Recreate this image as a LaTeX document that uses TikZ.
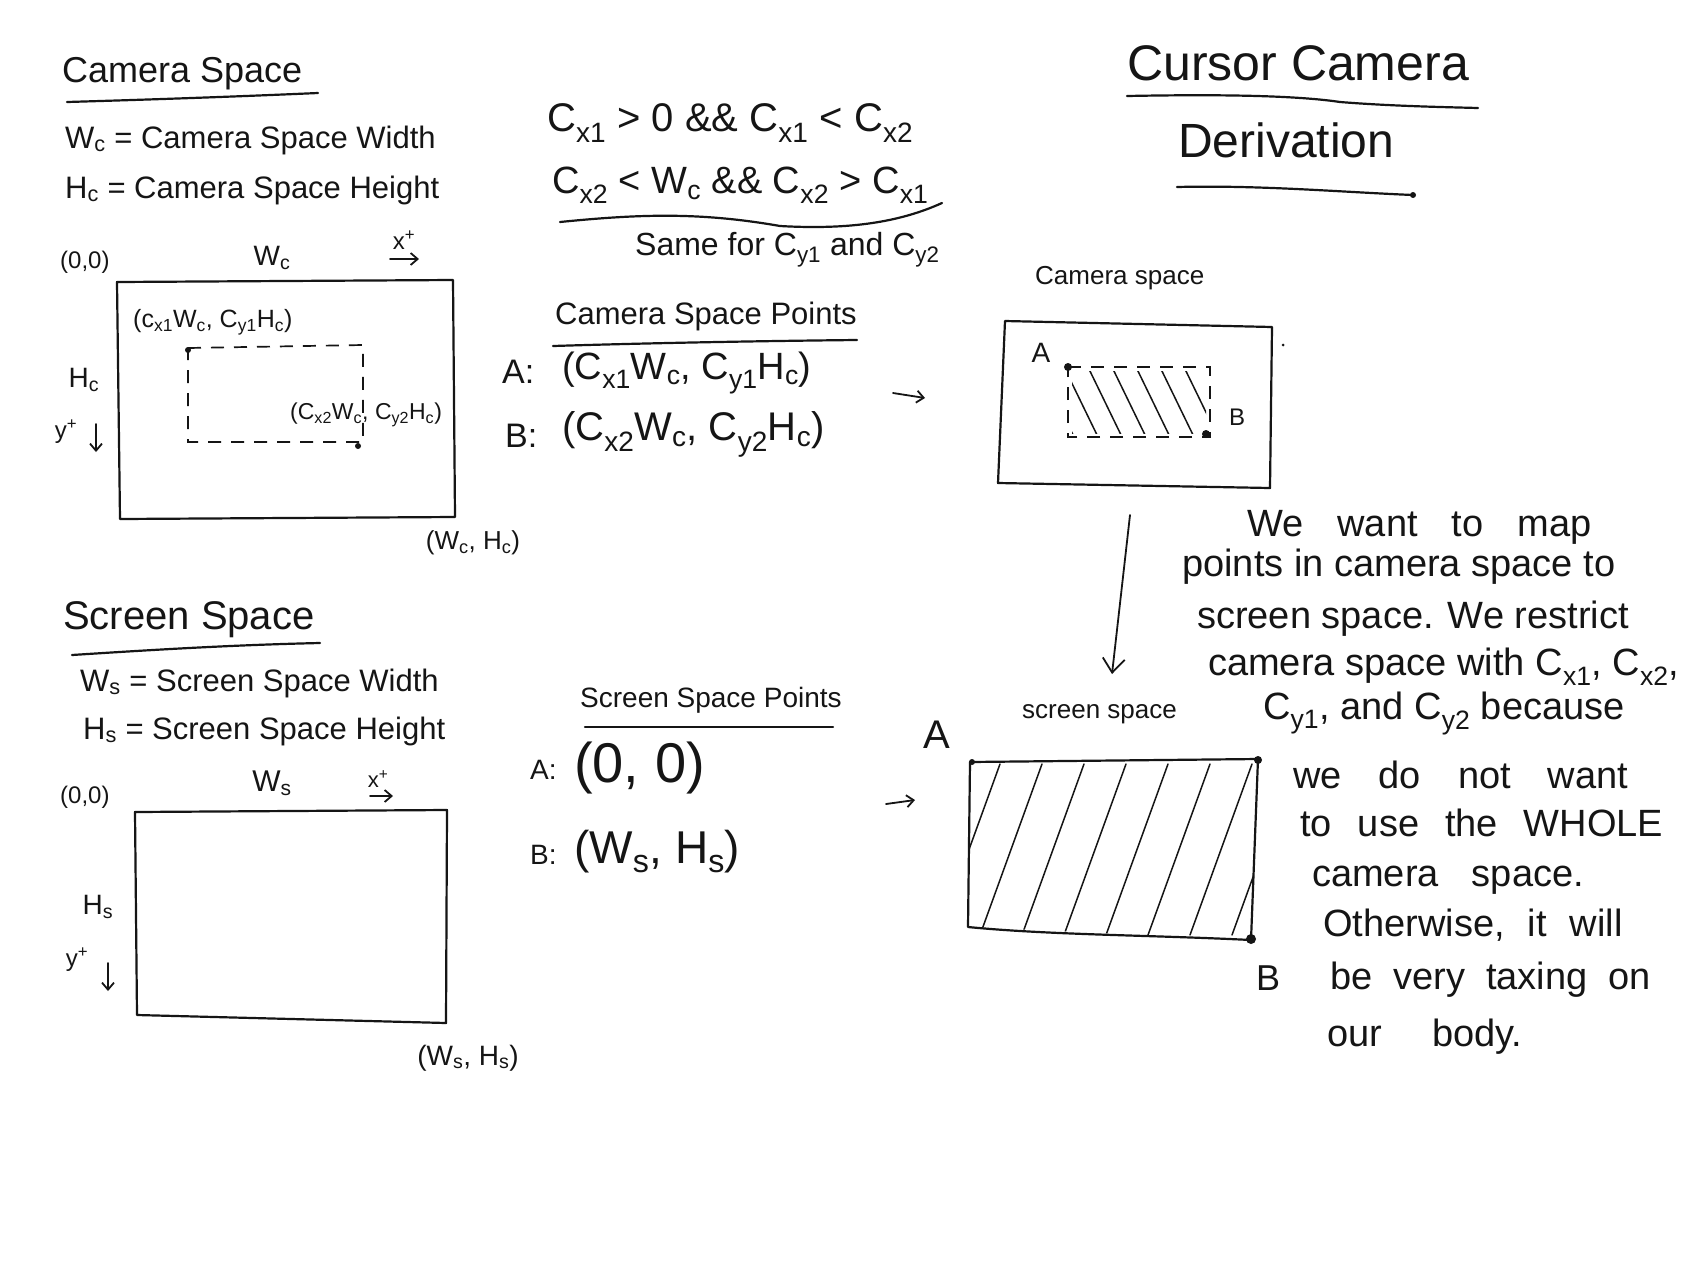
\documentclass[tikz,border=0pt]{standalone}
\usepackage{fontspec}
\setmainfont{Liberation Sans}
\usetikzlibrary{arrows.meta}
\definecolor{inkc}{HTML}{151515}
\newcommand{\fs}[1]{\fontsize{#1}{#1}\selectfont}
\newcommand{\Cc}[1]{C\textsubscript{#1}}
\newcommand{\wsp}[1]{\spaceskip=#1\relax}
\tikzset{
  ink/.style={draw=inkc, line width=2.2pt, line cap=round, line join=round},
  dashbox/.style={draw=inkc, line width=1.7pt, dash pattern=on 13pt off 10pt},
  lbl/.style={inner sep=0pt, anchor=west, text=inkc},
  clbl/.style={inner sep=0pt, text=inkc},
  arr/.style={ink, line width=1.8pt, -{Straight Barb[length=7pt,width=12pt]}},
  dotc/.style={fill=inkc, draw=none},
  hatch/.style={draw=inkc, line width=1.5pt, line cap=round}
}
\begin{document}
\begin{tikzpicture}[x=1pt,y=-1pt]
\useasboundingbox (0,0) rectangle (1700,1275);
\fill[white] (0,0) rectangle (1700,1275);

% ---------- Camera Space (left) ----------
\node[lbl,font=\fs{36}] (camT) at (62,74) {Camera Space};
\draw[ink] (67,102) .. controls (170,99) and (250,96) .. (318,93);
\node[lbl,font=\fs{31}] (wcdef) at (65,140) {W\textsubscript{c} = Camera Space Width};
\node[lbl,font=\fs{31}] (hcdef) at (65,190) {H\textsubscript{c} = Camera Space Height};
\node[lbl,font=\fs{24}] (o1) at (60,262) {(0,0)};
\node[clbl,font=\fs{28}] (wcl) at (272,258) {W\textsubscript{c}};
\node[clbl,font=\fs{24}] (xp1) at (404,240) {x\textsuperscript{+}};
\coordinate (xa1) at (390,259); \coordinate (xb1) at (419,259);
\draw[arr] (xa1) -- (xb1);
\draw[ink] (117,282) -- (453,280) -- (455,517) -- (120,519) -- cycle;
\node[lbl,font=\fs{25}] (p1) at (133,322) {(c\textsubscript{x1}W\textsubscript{c}, \Cc{y1}H\textsubscript{c})};
\draw[dashbox] (188,348) -- (363,345) -- (363,442) -- (188,442) -- cycle;
\fill[dotc] (188,350) circle (3pt);
\fill[dotc] (358,446) circle (3pt);
\node[lbl,font=\fs{23}] (p2) at (290,415) {(\Cc{x2}W\textsubscript{c}, \Cc{y2}H\textsubscript{c})};
\node[clbl,font=\fs{28}] (hcl) at (84,380) {H\textsubscript{c}};
\node[clbl,font=\fs{24}] (yp1) at (66,432) {y\textsuperscript{+}};
\coordinate (ya1) at (96,424); \coordinate (yb1) at (96,452);
\draw[arr] (ya1) -- (yb1);
\node[clbl,font=\fs{26}] (wh) at (473,543) {(W\textsubscript{c}, H\textsubscript{c})};

% ---------- Conditions ----------
\node[lbl,font=\fs{40}] (c1) at (547,123) {\Cc{x1} > 0 \&\& \Cc{x1} < \Cc{x2}};
\node[lbl,font=\fs{38}] (c2) at (552,185) {\Cc{x2} < W\textsubscript{c} \&\& \Cc{x2} > \Cc{x1}};
\draw[ink] (560,222) .. controls (640,214) and (700,212) .. (780,226) .. controls (850,230) and (900,222) .. (942,203);
\node[lbl,font=\fs{32}] (c3) at (635,250) {Same for \Cc{y1} and \Cc{y2}};

% ---------- Camera space points ----------
\node[lbl,font=\fs{31}] (csp) at (555,316) {Camera Space Points};
\draw[ink] (553,346) .. controls (650,343) and (760,341) .. (857,340);
\node[lbl,font=\fs{34}] (aL) at (502,372) {A:};
\node[lbl,font=\fs{38}] (aP) at (562,373) {(\Cc{x1}W\textsubscript{c}, \Cc{y1}H\textsubscript{c})};
\node[lbl,font=\fs{34}] (bL) at (505,436) {B:};
\node[lbl,font=\fs{40}] (bP) at (562,434) {(\Cc{x2}W\textsubscript{c}, \Cc{y2}H\textsubscript{c})};
\coordinate (ma1) at (893,393); \coordinate (mb1) at (925,398);
\draw[arr] (ma1) -- (mb1);

% ---------- Right camera space ----------
\node[lbl,font=\fs{26}] (rcT) at (1035,278) {Camera space};
\draw[ink] (1005,321) -- (1272,327) -- (1270,488) -- (998,483) -- cycle;
\fill[dotc] (1283,345) circle (1.5pt);
\node[clbl,font=\fs{28}] (rA) at (1041,353) {A};
\begin{scope}
  \clip (1072,371) rectangle (1206,433);
  \foreach \x in {1040,1064,...,1230} {
    \draw[hatch] (\x,367) -- (\x+34,437);
  }
\end{scope}
\draw[dashbox] (1068,367) -- (1210,367) -- (1210,437) -- (1068,437) -- cycle;
\fill[dotc] (1068,367) circle (4pt);
\fill[dotc] (1206,434) circle (4pt);
\node[clbl,font=\fs{24}] (rB) at (1237,417) {B};

% down arrow
\coordinate (da1) at (1130,515); \coordinate (da2) at (1112,674);
\draw[ink, line width=1.8pt, -{Straight Barb[length=14pt,width=22pt]}] (da1) -- (da2);

% ---------- Right screen space ----------
\node[lbl,font=\fs{26}] (rsT) at (1022,714) {screen space};
\begin{scope}
  \clip (970,762) -- (1258,759) -- (1251,940) -- (968,927) -- cycle;
  \foreach \x in {1000,1042,...,1340} {
    \draw[hatch] (\x-62,935) -- (\x,764);
  }
\end{scope}
\draw[ink] (970,762) -- (1258,759) -- (1251,940) .. controls (1150,935) and (1050,935) .. (968,927) -- cycle;
\fill[dotc] (972,762) circle (3pt);
\fill[dotc] (1258,760) circle (4pt);
\fill[dotc] (1251,939) circle (5pt);
\node[clbl,font=\fs{40}] (sA) at (937,735) {A};
\node[clbl,font=\fs{36}] (sB) at (1268,978) {B};
\coordinate (ma2) at (886,804); \coordinate (mb2) at (915,800);
\draw[arr] (ma2) -- (mb2);

% ---------- Screen Space (left) ----------
\node[lbl,font=\fs{40}] (scT) at (63,620) {Screen Space};
\draw[ink] (72,655) .. controls (150,650) and (230,645) .. (320,643);
\node[lbl,font=\fs{31}] (wsdef) at (80,683) {W\textsubscript{s} = Screen Space Width};
\node[lbl,font=\fs{31}] (hsdef) at (83,731) {H\textsubscript{s} = Screen Space Height};
\node[lbl,font=\fs{24}] (o2) at (60,797) {(0,0)};
\node[clbl,font=\fs{30}] (wsl) at (272,783) {W\textsubscript{s}};
\node[clbl,font=\fs{22}] (xp2) at (378,779) {x\textsuperscript{+}};
\coordinate (xa2) at (370,796); \coordinate (xb2) at (393,796);
\draw[arr] (xa2) -- (xb2);
\draw[ink] (135,812) -- (447,810) -- (446,1023) -- (137,1015) -- cycle;
\node[clbl,font=\fs{28}] (hsl) at (98,907) {H\textsubscript{s}};
\node[clbl,font=\fs{24}] (yp2) at (77,960) {y\textsuperscript{+}};
\coordinate (ya2) at (108,963); \coordinate (yb2) at (108,991);
\draw[arr] (ya2) -- (yb2);
\node[clbl,font=\fs{28}] (whs) at (468,1058) {(W\textsubscript{s}, H\textsubscript{s})};

% ---------- Screen space points ----------
\node[lbl,font=\fs{28}] (ssp) at (580,700) {Screen Space Points};
\draw[ink] (585,727) -- (833,727);
\node[lbl,font=\fs{28}] (sa) at (530,770) {A:};
\node[lbl,font=\fs{56}] (sap) at (574,768) {(0, 0)};
\node[lbl,font=\fs{28}] (sb) at (530,855) {B:};
\node[lbl,font=\fs{46}] (sbp) at (574,852) {(W\textsubscript{s}, H\textsubscript{s})};

% ---------- Title ----------
\node[lbl,font=\fs{50}] (t1) at (1127,63) {Cursor Camera};
\draw[ink] (1127,96) .. controls (1230,94) and (1300,96) .. (1340,102) .. controls (1390,106) and (1440,107) .. (1478,108);
\node[lbl,font=\fs{48}] (t2) at (1178,140) {Derivation};
\draw[ink] (1177,187) .. controls (1260,185) and (1340,192) .. (1413,195);
\fill[dotc] (1413,195) circle (3pt);

% ---------- Paragraph ----------
\begin{scope}[every node/.style={lbl,font=\fs{38}}]
\node (l1) at (1247,527) {\wsp{34pt}We want to map};
\node (l2) at (1182,567) {points in camera space to};
\node (l3) at (1197,619) {screen space. We restrict};
\node (l4) at (1208,667) {camera space with \Cc{x1}, \Cc{x2},};
\node (l5) at (1263,713) {\Cc{y1}, and \Cc{y2} because};
\node (l6) at (1293,775) {\wsp{37pt}we do not want};
\node (l7) at (1300,823) {\wsp{26pt}to use the WHOLE};
\node (l8) at (1312,880) {\wsp{33pt}camera space.};
\node (l9) at (1323,925) {\wsp{23pt}Otherwise, it will};
\node (l10) at (1330,980) {\wsp{21pt}be very taxing on};
\node (l11) at (1327,1037) {\wsp{50pt}our body.};
\end{scope}
\end{tikzpicture}
\end{document}
